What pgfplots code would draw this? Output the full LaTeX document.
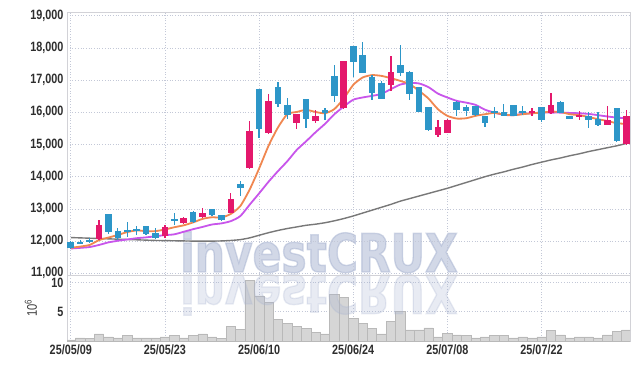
\documentclass[border=0pt]{standalone}
\usepackage{pgfplots}
\pgfplotsset{compat=1.18}
\usepackage{pgfplotstable}
\usepackage{fontspec}
\setmainfont{Liberation Sans}[FakeStretch=0.8]
\newfontfamily\wmfont{DejaVu Sans Bold}[FakeStretch=0.8, FakeBold=2.5]
\definecolor{cRed}{RGB}{228,24,108}
\definecolor{cBlue}{RGB}{45,150,200}
\definecolor{cOrange}{RGB}{240,135,80}
\definecolor{cPurple}{RGB}{200,85,235}
\definecolor{cGray}{RGB}{120,120,120}
\definecolor{cGrid}{RGB}{195,200,215}
\definecolor{cFrame}{RGB}{210,210,215}
\definecolor{cWater}{RGB}{167,179,209}

% up candles (red): index open high low close
\pgfplotstableread{
i o h l c
3 12050 12640 12030 12490
10 12170 12505 12110 12430
12 12555 12740 12520 12710
14 12750 13035 12730 12870
17 12880 13500 12860 13295
19 14280 15730 14240 15420
21 15370 16560 15330 16355
24 15680 15960 15475 15940
26 15730 16070 15655 15890
29 16145 17600 16110 17580
34 16845 17735 16665 17255
39 15285 15755 15240 15545
40 15370 15780 15350 15760
49 15970 16120 15880 16045
51 15970 16600 15950 16230
54 15880 16040 15760 15900
57 15605 16200 15600 15760
59 15010 16075 14990 15890
}\upc

% down candles (blue)
\pgfplotstableread{
i o h l c
0 11970 11990 11760 11780
1 11955 12045 11900 11935
2 12010 12095 11940 11990
4 12830 12830 12225 12280
5 12300 12400 12040 12100
6 12320 12600 12135 12290
7 12370 12460 12200 12310
8 12460 12460 12200 12225
9 12240 12420 12050 12100
11 12680 12865 12500 12650
13 12900 12920 12570 12590
15 13000 13000 12780 12795
16 12795 12800 12620 12670
18 13780 13865 13410 13655
20 16720 16720 15190 15490
22 16790 16945 16160 16270
23 16230 16435 15780 15920
25 16405 16405 15505 15805
27 16075 16125 15760 15990
28 17130 17475 16320 16510
30 18065 18065 17100 17570
31 17785 18170 17205 17205
32 17110 17160 16385 16610
33 16905 16960 16400 16425
35 17475 18090 17130 17235
36 17255 17280 16385 16580
37 16790 16790 16010 16010
38 16165 16165 15430 15450
41 16330 16350 15890 16075
42 16165 16230 15900 16040
43 16200 16200 15890 15910
44 15890 15890 15555 15680
45 16035 16150 15810 16005
46 16010 16250 15880 15890
47 16230 16230 15870 15890
48 16045 16190 15930 15980
50 16165 16165 15690 15760
52 16325 16340 15970 15990
53 15890 15900 15790 15805
55 15890 16020 15500 15760
56 15805 16000 15580 15605
58 16125 16125 15090 15110
}\dnc

% moving averages and volume (millions)
\pgfplotstableread{
i ma5 ma10 ma60 vol
0 11790 11770 12110 0.2
1 11830 11790 12100 0.55
2 11880 11815 12090 0.4
3 12030 11880 12080 1.2
4 12110 11960 12070 0.7
5 12190 12010 12060 0.55
6 12280 12050 12050 1.0
7 12330 12090 12040 0.55
8 12310 12115 12030 0.55
9 12310 12150 12020 0.55
10 12360 12185 12015 0.7
11 12430 12210 12010 0.9
12 12490 12290 12005 0.55
13 12580 12370 12000 0.9
14 12690 12440 12000 1.2
15 12740 12515 12000 0.7
16 12730 12550 12005 0.4
17 12845 12620 12020 2.5
18 13085 12775 12045 2.0
19 13600 13130 12100 10.3
20 14250 13480 12180 7.7
21 14955 13840 12260 6.6
22 15525 14170 12330 3.7
23 15940 14480 12390 3.05
24 16010 14830 12440 2.5
25 16075 15100 12490 2.1
26 16010 15380 12525 1.5
27 15970 15640 12570 1.2
28 16100 15940 12630 8.0
29 16430 16180 12700 7.5
30 16850 16390 12780 3.85
31 17080 16460 12870 3.05
32 17155 16510 12960 2.1
33 17130 16570 13050 1.2
34 17060 16720 13140 3.3
35 16975 16860 13240 5.05
36 16875 16910 13320 1.9
37 16665 16895 13400 1.9
38 16425 16780 13480 2.25
39 16095 16580 13560 0.7
40 15890 16460 13640 1.3
41 15805 16355 13730 1.05
42 15815 16300 13820 0.9
43 15890 16230 13910 0.55
44 15940 16080 14000 0.7
45 15980 15990 14080 0.9
46 15930 15920 14150 0.9
47 15910 15910 14230 0.55
48 15940 15950 14300 0.7
49 15970 15970 14380 0.55
50 15990 15990 14450 0.7
51 16020 15990 14520 1.8
52 16010 15990 14580 1.05
53 15940 15980 14650 0.55
54 15910 15970 14710 0.7
55 15855 15950 14780 0.7
56 15785 15910 14840 0.55
57 15730 15870 14900 1.05
58 15660 15835 14960 1.6
59 15640 15815 15030 1.9
}\mas

\pgfplotsset{
  base/.style={
    scale only axis, width=563pt,
    xmin=-0.4, xmax=59.4,
    enlargelimits=false,
    axis line style={draw=cFrame},
    xmajorgrids, ymajorgrids,
    major grid style={draw=cGrid, line width=0.7pt, dotted},
    major tick length=0pt,
    tick label style={font=\fontsize{13.5}{13.5}\selectfont\bfseries, text=black!82},
    /pgf/number format/assume math mode=true,
    /pgf/number format/1000 sep={,},
    scaled y ticks=false,
    xtick={0,10,20,30,40,50},
  },
  candle/.style 2 args={draw=none, mark=none, forget plot,
    error bars/.cd, y dir=both, y explicit, error mark=none,
    error bar style={draw=#1, solid, line width=#2}},
}

\begin{document}
\begin{tikzpicture}
\fill[white] (0pt,0pt) rectangle (639pt,369pt);
\path[use as bounding box] (0pt,0pt) rectangle (639pt,369pt);

% volume panel
\begin{axis}[base, at={(67pt,28pt)}, anchor=south west, height=66pt,
  ymin=0, ymax=11.28, ytick={5,10},
  xticklabels={25/05/09,25/05/23,25/06/10,25/06/24,25/07/08,25/07/22},
  ylabel={10\textsuperscript{6}},
  ylabel style={at={(axis description cs:-0.064,0.5)}, anchor=center, font=\fontsize{14}{14}\selectfont, text=black!75},
]
\addplot[ybar, bar width=1, bar shift=0pt, fill={rgb,255:red,214;green,214;blue,214}, draw={rgb,255:red,185;green,185;blue,185}, line width=0.5pt]
  table[x=i, y=vol] {\mas};
\end{axis}

% watermark
\node[anchor=base, text=cWater, opacity=0.5, font=\fontsize{53}{53}\wmfont, inner sep=0pt] at (319pt,97pt) {investCRUX};
\node[anchor=base, yscale=-1, text=cWater, opacity=0.26, font=\fontsize{53}{53}\wmfont, inner sep=0pt] at (319pt,94pt) {investCRUX};

% price panel
\begin{axis}[base, at={(67pt,94pt)}, anchor=south west, height=262.3pt,
  ymin=10947, ymax=19093,
  ytick={11000,12000,...,19000},
  xticklabels={},
]
% moving averages
\addplot[cGray, line width=1.4pt, smooth, tension=0.4, mark=none] table[x=i, y=ma60] {\mas};
\addplot[cPurple, line width=1.8pt, smooth, tension=0.4, mark=none] table[x=i, y=ma10] {\mas};
\addplot[cOrange, line width=1.8pt, smooth, tension=0.4, mark=none] table[x=i, y=ma5] {\mas};
% wicks
\addplot[candle={cRed}{1.3pt}]
  table[x=i, y expr={(\thisrow{h}+\thisrow{l})/2}, y error expr={(\thisrow{h}-\thisrow{l})/2}] {\upc};
\addplot[candle={cBlue}{1.3pt}]
  table[x=i, y expr={(\thisrow{h}+\thisrow{l})/2}, y error expr={(\thisrow{h}-\thisrow{l})/2}] {\dnc};
% bodies
\addplot[candle={cRed}{6.6pt}]
  table[x=i, y expr={(\thisrow{o}+\thisrow{c})/2}, y error expr={max(abs(\thisrow{c}-\thisrow{o})/2,30)}] {\upc};
\addplot[candle={cBlue}{6.6pt}]
  table[x=i, y expr={(\thisrow{o}+\thisrow{c})/2}, y error expr={max(abs(\thisrow{c}-\thisrow{o})/2,30)}] {\dnc};
\end{axis}
\end{tikzpicture}
\end{document}
